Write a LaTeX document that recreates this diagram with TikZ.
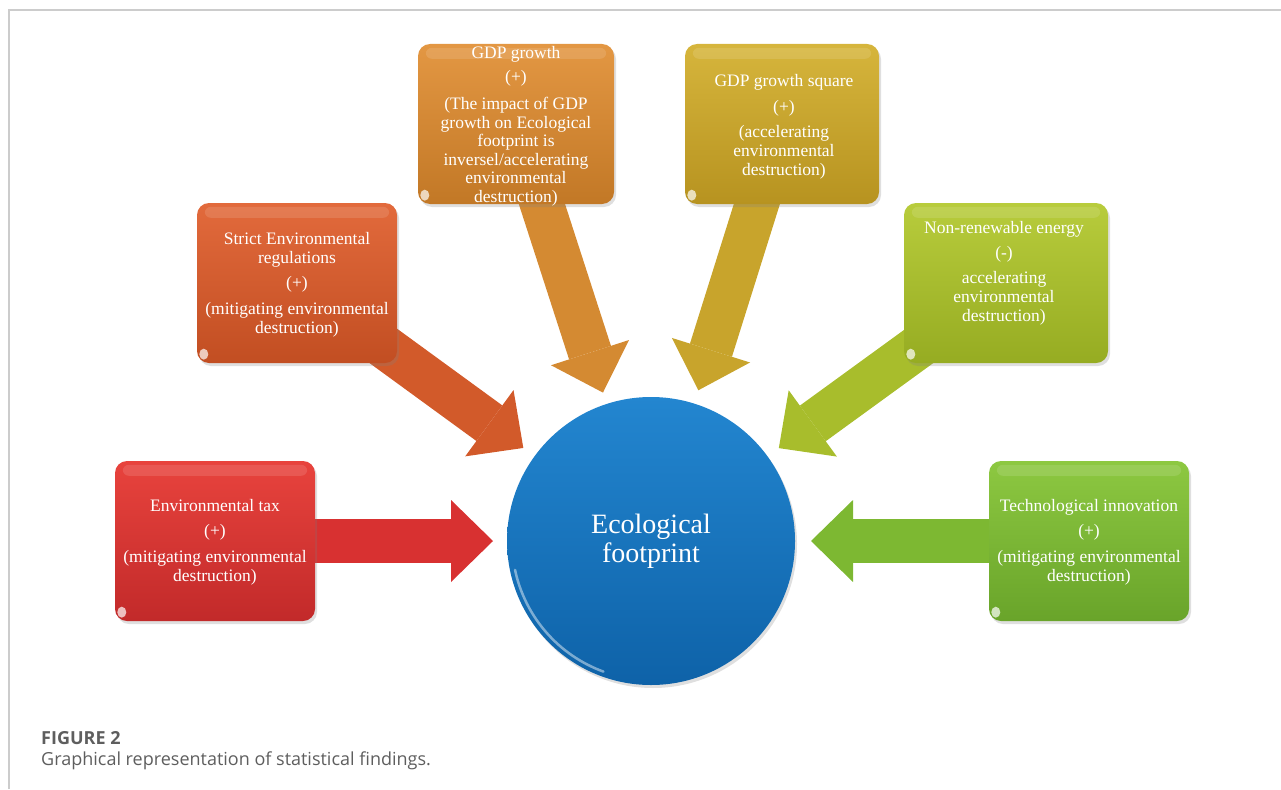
\documentclass[tikz,border=0pt]{standalone}
\usepackage{fontspec}
\setmainfont{Liberation Serif}
\newfontfamily\capfont{Open Sans}
\usetikzlibrary{arrows.meta,calc,shadows}
\pgfdeclarelayer{bg}
\pgfsetlayers{bg,main}

% palette
\definecolor{framecol}{HTML}{CCCCCC}
\definecolor{capgray}{HTML}{5E5E5E}
\definecolor{taxtop}{HTML}{E8433D}\definecolor{taxbot}{HTML}{C22A2A}\definecolor{taxarr}{HTML}{D83131}
\definecolor{regtop}{HTML}{E26A3C}\definecolor{regbot}{HTML}{C24E22}\definecolor{regarr}{HTML}{D25A2A}
\definecolor{gdptop}{HTML}{E39743}\definecolor{gdpbot}{HTML}{C27826}\definecolor{gdparr}{HTML}{D48A32}
\definecolor{sqtop}{HTML}{D6B53C}\definecolor{sqbot}{HTML}{B79320}\definecolor{sqarr}{HTML}{C8A42C}
\definecolor{nrtop}{HTML}{B8CC3C}\definecolor{nrbot}{HTML}{96AC22}\definecolor{nrarr}{HTML}{A8BD2C}
\definecolor{tectop}{HTML}{8DC841}\definecolor{tecbot}{HTML}{69A42A}\definecolor{tecarr}{HTML}{7DB832}
\definecolor{ecotop}{HTML}{2386D0}\definecolor{ecobot}{HTML}{0E62A8}

\tikzset{
  factor/.style={rounded corners=12pt, minimum width=200pt, minimum height=160pt,
    inner sep=0pt, drop shadow={shadow xshift=2pt, shadow yshift=-3pt, opacity=0.25}},
  boxtext/.style={text=white, align=center, inner sep=0pt, anchor=north,
    font=\fontsize{17.5}{19}\selectfont},
  fat/.style={line width=44pt, draw=#1,
    -{Triangle[length=42pt, width=82pt, line width=0pt]}},
  gloss/.style={fill=white, opacity=0.12, rounded corners=6pt},
  glint/.style={fill=white, opacity=0.7},
}

\begin{document}
\begin{tikzpicture}[x=1pt,y=-1pt]
\useasboundingbox (0,0) rectangle (1281,789);

% page frame
\draw[framecol, line width=1.5pt] (9,789) -- (9,10) -- (1281,10);

% central circle
\node[circle, minimum size=288pt, inner sep=0pt, top color=ecotop, bottom color=ecobot,
      text=white, align=center, font=\fontsize{28}{29}\selectfont,
      drop shadow={shadow xshift=2pt, shadow yshift=-3pt, opacity=0.25}]
      (eco) at (651,541) {Ecological\\footprint};
\draw[white, opacity=0.45, line width=2.5pt, line cap=round]
  ([shift={(192:139pt)}]eco.center) arc[start angle=192, end angle=250, radius=139pt];

% factor boxes
\node[factor, top color=taxtop, bottom color=taxbot] (tax) at (215,541) {};
\node[factor, top color=regtop, bottom color=regbot] (reg) at (297,283) {};
\node[factor, minimum width=196pt, top color=gdptop, bottom color=gdpbot] (gdp) at (516,124) {};
\node[factor, minimum width=194pt, top color=sqtop, bottom color=sqbot] (sq) at (782,124) {};
\node[factor, minimum width=204pt, top color=nrtop, bottom color=nrbot] (nr) at (1006,283) {};
\node[factor, top color=tectop, bottom color=tecbot] (tec) at (1089,541) {};

% glossy band along the top and a glint in the lower left corner of each box
\foreach \b in {tax,reg,gdp,sq,nr,tec}{
  \fill[gloss] ([shift={(8pt,-4pt)}]\b.north west) rectangle ([shift={(-8pt,-15pt)}]\b.north east);
  \fill[glint] ([shift={(7pt,9pt)}]\b.south west) ellipse[x radius=4.5pt, y radius=5.5pt];
}

% box texts
\node[boxtext] (taxt) at (215,499)
  {Environmental tax\\[6pt](+)\\[7pt](mitigating environmental\\destruction)};
\node[boxtext] (regt) at (297,232)
  {Strict Environmental\\regulations\\[6pt](+)\\[7pt](mitigating environmental\\destruction)};
\node[boxtext, font=\fontsize{17.5}{18.6}\selectfont] (gdpt) at (516,46)
  {GDP growth\\[6pt](+)\\[8pt](The impact of GDP\\growth on Ecological\\footprint is\\inversel/accelerating\\environmental\\destruction)};
\node[boxtext] (sqt) at (784,74)
  {GDP growth square\\[7pt](+)\\[6pt](accelerating\\environmental\\destruction)};
\node[boxtext] (nrt) at (1004,221)
  {Non-renewable energy\\[6pt](-)\\[6pt]accelerating\\environmental\\destruction)};
\node[boxtext] (tect) at (1089,499)
  {Technological innovation\\[6pt](+)\\[7pt](mitigating environmental\\destruction)};

% block arrows, beneath the boxes
\begin{pgfonlayer}{bg}
\draw[fat=taxarr] (tax.center) -- ($(eco.center)!158pt!(tax.center)$);
\draw[fat=regarr] (reg.center) -- ($(eco.center)!158pt!(reg.center)$);
\draw[fat=gdparr] (gdp.center) -- ($(eco.center)!156pt!(gdp.center)$);
\draw[fat=sqarr]  (sq.center)  -- ($(eco.center)!158pt!(sq.center)$);
\draw[fat=nrarr]  (nr.center)  -- ($(eco.center)!158pt!(nr.center)$);
\draw[fat=tecarr] (tec.center) -- ($(eco.center)!160pt!(tec.center)$);
\end{pgfonlayer}

% caption
\node[anchor=base west, inner sep=0pt, text=capgray,
      font=\capfont\bfseries\fontsize{18}{20}\selectfont] (fig) at (41,744) {FIGURE 2};
\node[anchor=base west, inner sep=0pt, text=capgray,
      font=\capfont\fontsize{18}{20}\selectfont] (cap) at (41,765)
  {Graphical representation of statistical findings.};
\end{tikzpicture}
\end{document}
